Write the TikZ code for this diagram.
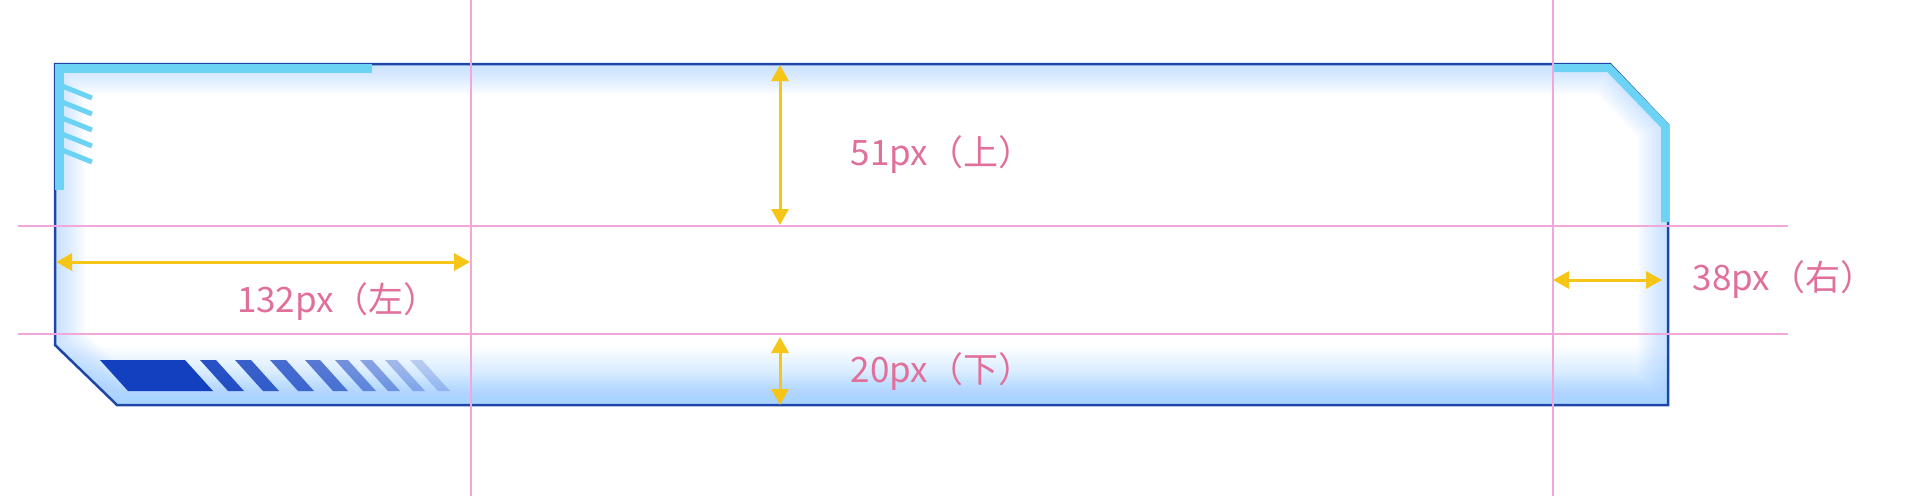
\documentclass[tikz,border=0pt]{standalone}
\usepackage{fontspec}
\setmainfont{Noto Sans CJK SC}
\usetikzlibrary{arrows.meta}

\definecolor{framedark}{HTML}{1E46A8}
\definecolor{cyanbar}{HTML}{6CD3F5}
\definecolor{guide}{HTML}{F0A8DC}
\definecolor{arrowgold}{HTML}{F5C518}
\definecolor{labelpink}{HTML}{E0709A}
\definecolor{glowblue}{HTML}{A9D4FF}
\definecolor{barblue}{HTML}{1340BF}

\newcommand{\frameoutline}{(55,64) -- (1610,64) -- (1668,125) -- (1668,405) -- (117,405) -- (55,345) -- cycle}

\begin{document}
\begin{tikzpicture}[x=1pt, y=-1pt,
                    guide line/.style={draw=guide, line width=2pt},
                    dim arrow/.style={draw=arrowgold, line width=3pt,
                      {Triangle[length=16pt,width=17pt]}-{Triangle[length=16pt,width=17pt]}},
                    dim label/.style={text=labelpink, inner sep=0pt,
                      font=\fontsize{35}{40}\selectfont}]

  \useasboundingbox[fill=white] (0,0) rectangle (1912,496);

  % panel body with inner glow
  \begin{scope}
    \clip \frameoutline;
    \fill[white] \frameoutline;
    \shade[top color=white, bottom color=glowblue] (55,345) rectangle (1668,405);
    \foreach \w in {4,8,...,60}
      \draw[glowblue, line width=\w pt, opacity=0.05] \frameoutline;
  \end{scope}
  \draw[framedark, line width=2.5pt, line join=miter] \frameoutline;

  % cyan trims
  \draw[cyanbar, line width=9pt] (59.5,190) -- (59.5,68.5) -- (372,68.5);
  \draw[cyanbar, line width=8pt] (1553,68) -- (1609,68) -- (1665,126) -- (1665,222);
  \foreach \y in {86,102,118,134,150}
    \draw[cyanbar, line width=5pt] (62,\y) -- (92,\y+12);

  % bottom bar and fading stripes
  \fill[barblue] (100,360) -- (185,360) -- (213,391) -- (128,391) -- cycle;
  \foreach \x/\w/\o in {200/16/0.9, 235/16/0.82, 270/16/0.75, 305/15/0.68,
                        335/13/0.55, 360/12/0.45, 385/12/0.33, 410/12/0.22}
    \fill[barblue, opacity=\o] (\x,360) -- ++(\w,0) -- ++(28,31) -- ++(-\w,0) -- cycle;

  % guide lines
  \coordinate (v1) at (471,0);   \coordinate (v1e) at (471,496);
  \coordinate (v2) at (1553,0);  \coordinate (v2e) at (1553,496);
  \coordinate (h1) at (18,226);  \coordinate (h1e) at (1788,226);
  \coordinate (h2) at (18,334);  \coordinate (h2e) at (1788,334);
  \path[guide line] (v1) -- (v1e);
  \path[guide line] (v2) -- (v2e);
  \path[guide line] (h1) -- (h1e);
  \path[guide line] (h2) -- (h2e);

  % dimension arrows
  \coordinate (top1) at (780,65);   \coordinate (top2) at (780,225);
  \coordinate (bot1) at (780,337);  \coordinate (bot2) at (780,405);
  \coordinate (lft1) at (56,262);   \coordinate (lft2) at (470,262);
  \coordinate (rgt1) at (1553,280); \coordinate (rgt2) at (1662,280);
  \path (top1) edge[dim arrow] (top2);
  \path (bot1) edge[dim arrow] (bot2);
  \path (lft1) edge[dim arrow] (lft2);
  \path (rgt1) edge[dim arrow] (rgt2);

  % labels
  \node[dim label] (up)    at (942,155)  {51px（上）};
  \node[dim label] (down)  at (942,372)  {20px（下）};
  \node[dim label] (left)  at (338,302)  {132px（左）};
  \node[dim label] (right) at (1784,280) {38px（右）};

\end{tikzpicture}
\end{document}
